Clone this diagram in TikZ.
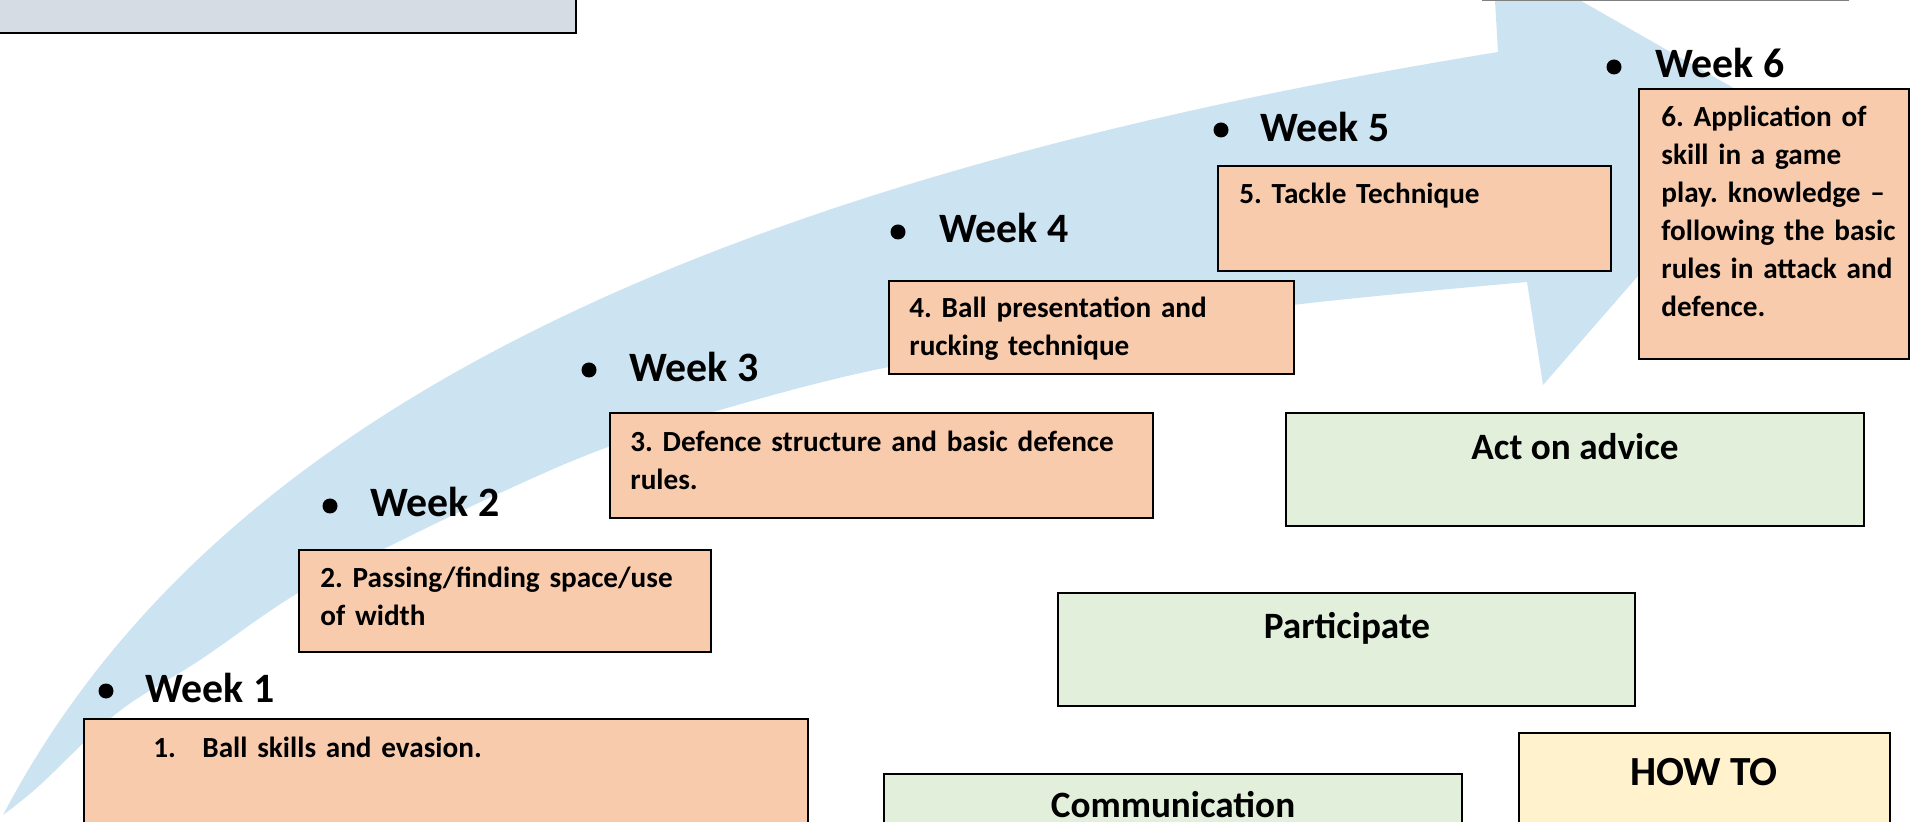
\documentclass[tikz,border=0pt]{standalone}
\usepackage{fontspec}
\setmainfont{Carlito}
\frenchspacing
\definecolor{arrowblue}{HTML}{CCE3F2}
\definecolor{boxorange}{HTML}{F8CBAD}
\definecolor{boxgreen}{HTML}{E2EFDA}
\definecolor{boxyellow}{HTML}{FFF2CC}
\definecolor{boxgray}{HTML}{D6DCE4}
\tikzset{
  panel/.style={draw=black, line width=1pt, anchor=north west, inner sep=0pt, outer sep=0pt},
  orangebox/.style={panel, fill=boxorange},
  greenbox/.style={panel, fill=boxgreen},
  yellowbox/.style={panel, fill=boxyellow},
  boxtext/.style={anchor=base west, inner sep=0pt, text width=250pt, align=left,
    font=\bfseries\fontsize{14.6}{19}\selectfont\frenchspacing},
  weektext/.style={anchor=base west, inner sep=0pt, font=\bfseries\fontsize{20.9}{25}\selectfont},
  weekdot/.style={circle, fill=black, inner sep=0pt, minimum size=7.5pt},
  greentext/.style={anchor=base, inner sep=0pt, font=\bfseries\fontsize{18.6}{22}\selectfont},
  howtext/.style={anchor=base, inner sep=0pt, font=\bfseries\fontsize{20.7}{25}\selectfont},
}
\begin{document}
\begin{tikzpicture}[x=0.5pt,y=-0.5pt]
\useasboundingbox (0,0) rectangle (1910,822);
\clip (0,0) rectangle (1910,822);

% big curved arrow
\fill[arrowblue]
  (3,815) .. controls (200,440) and (650,190) .. (1498,52)
  -- (1492,-50) -- (1779,114) -- (1543,385) -- (1527,282)
  -- plot[smooth, tension=0.6] coordinates {(1527,282) (1293,305) (1100,334) (889,367) (720,410) (600,450) (500,493) (400,541) (298,593) (200,660) (117,713) (40,785) (3,815)}
  -- cycle;

% partial boxes at the top
\node[panel, fill=boxgray, line width=1.2pt, minimum width=293pt, minimum height=21.5pt] (topleft) at (-10,-10) {};
\node[draw=gray, line width=0.8pt, anchor=south west, inner sep=0pt, minimum width=182.5pt, minimum height=30pt] (topright) at (1482,1) {};

% week boxes
\node[orangebox, minimum width=362pt, minimum height=60.5pt] (b1) at (84,719) {};
\node[orangebox, minimum width=206pt, minimum height=51pt] (b2) at (299,550) {};
\node[orangebox, minimum width=271.5pt, minimum height=52.5pt] (b3) at (610,413) {};
\node[orangebox, minimum width=202.5pt, minimum height=46.5pt] (b4) at (889,281) {};
\node[orangebox, minimum width=196.5pt, minimum height=52.5pt] (b5) at (1218,166) {};
\node[orangebox, minimum width=135pt, minimum height=135pt] (b6) at (1639,89) {};

\node[boxtext] (t1) at (153,757) {\makebox[24.5pt][l]{1.}Ball skills and evasion.};
\node[boxtext] (t2) at (320,588) {2. Passing/finding space/use\\of width};
\node[boxtext] (t3) at (630,452) {3. Defence structure and basic defence\\rules.};
\node[boxtext] (t4) at (909,318) {4. Ball presentation and\\rucking technique};
\node[boxtext] (t5) at (1239,204) {5. Tackle Technique};
\node[boxtext] (t6) at (1661,127) {6. Application of\\skill in a game\\play. knowledge –\\following the basic\\rules in attack and\\defence.};

% week labels
\node[weekdot] (d1) at (106,691) {};
\node[weektext] (w1) at (145,703) {Week 1};
\node[weekdot] (d2) at (330,506) {};
\node[weektext] (w2) at (370,517) {Week 2};
\node[weekdot] (d3) at (589,370) {};
\node[weektext] (w3) at (629,382) {Week 3};
\node[weekdot] (d4) at (898,232) {};
\node[weektext] (w4) at (939,243) {Week 4};
\node[weekdot] (d5) at (1221,130) {};
\node[weektext] (w5) at (1260,142) {Week 5};
\node[weekdot] (d6) at (1614,67) {};
\node[weektext] (w6) at (1655,78) {Week 6};

% green boxes
\node[greenbox, minimum width=289pt, minimum height=56.5pt] (act) at (1286,413) {};
\node[greentext] (acttext) at (1575,460) {Act on advice};
\node[greenbox, minimum width=288.5pt, minimum height=56.5pt] (part) at (1058,593) {};
\node[greentext] (parttext) at (1347,639) {Participate};
\node[greenbox, minimum width=289pt, minimum height=56.5pt] (comm) at (884,774) {};
\node[greentext] (commtext) at (1173,817) {Communication};

% how to box
\node[yellowbox, minimum width=185.5pt, minimum height=55pt] (howto) at (1519,733) {};
\node[howtext] (howtext) at (1704,785) {HOW TO};
\end{tikzpicture}
\end{document}
